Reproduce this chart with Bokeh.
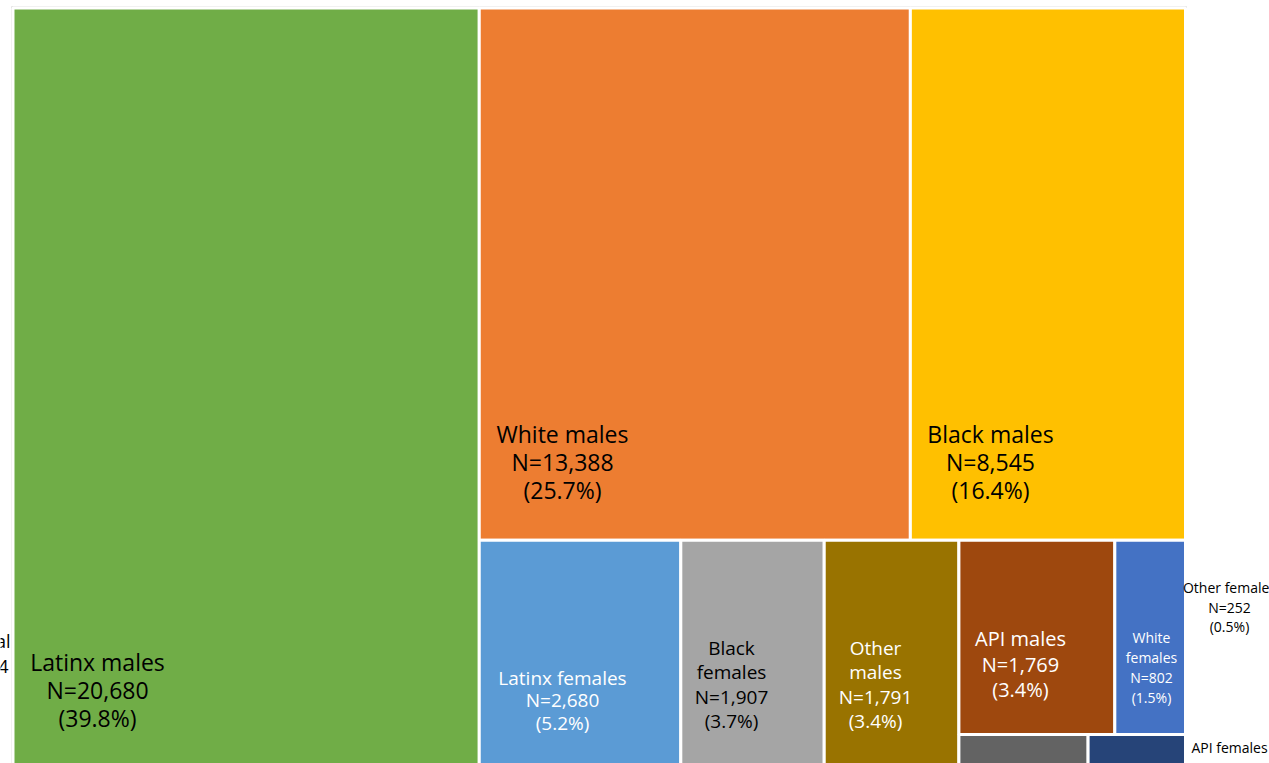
from bokeh.plotting import figure
from bokeh.models import Range1d, ColumnDataSource
from bokeh.core.properties import value
from bokeh.embed import file_html
from bokeh.resources import INLINE

# ---- data ----
categories = ["Latinx males", "White males", "Black males", "Latinx females",
              "Black females", "Other males", "API males", "White females",
              "Other females", "API females"]
counts = [20680, 13388, 8545, 2680, 1907, 1791, 1769, 802, 252, 190]

# ---- styles ----
colors = ["#70AD47", "#ED7D31", "#FFC000", "#5B9BD5", "#A5A5A5",
          "#997300", "#9E480E", "#4472C4", "#636363", "#264478"]
label_colors = ["#000000", "#000000", "#000000", "#FFFFFF", "#000000",
                "#FFFFFF", "#FFFFFF", "#FFFFFF", "#000000", "#000000"]
name_lines = [["Latinx males"], ["White males"], ["Black males"], ["Latinx females"],
              ["Black", "females"], ["Other", "males"], ["API males"],
              ["White", "females"], ["Other females"], ["API females"]]
font_px = [23, 23, 23, 19, 19, 19, 20, 14, 14, 14]
line_step = [28, 28, 28, 22.5, 24.5, 24.5, 25.5, 20, 19.5, 19.5]
# first-line centre of each label, offset from the treemap's top-left corner (px)
label_off = [(84.5, 653.5), (549.5, 425.5), (977.5, 425.5), (549.5, 669.5),
             (718.5, 639.5), (862.5, 639.5), (1007.5, 630.5), (1138.5, 629.5),
             (1216.5, 579.5), (1216.5, 739.5)]

# strips, as laid out in the reference: (direction, members)
strips = [("v", [0]), ("h", [1, 2]), ("v", [3]), ("v", [4]), ("v", [5]),
          ("h", [6, 7]), ("h", [8, 9])]

# treemap frame, in page pixels
FX0, FY0, FW, FH = 12.5, 7.5, 1172.5, 760.0
CW, CH = 1269, 763

total = sum(counts)

# ---- layout ----
left, right, top, bottom = [0.0] * 10, [0.0] * 10, [0.0] * 10, [0.0] * 10
x0, y0, w, h = FX0, FY0, FW, FH
remaining = float(total)
for direction, members in strips:
    s = sum(counts[i] for i in members)
    frac = s / remaining
    if direction == "v":
        sw = w * frac
        yy = y0
        for i in members:
            hh = h * counts[i] / s
            left[i], right[i], top[i], bottom[i] = x0, x0 + sw, yy, yy + hh
            yy += hh
        x0 += sw
        w -= sw
    else:
        sh = h * frac
        xx = x0
        for i in members:
            ww = w * counts[i] / s
            left[i], right[i], top[i], bottom[i] = xx, xx + ww, y0, y0 + sh
            xx += ww
        y0 += sh
        h -= sh
    remaining -= s

tiles = ColumnDataSource(dict(left=left, right=right, top=top, bottom=bottom,
                              color=colors, name=categories))

# label lines
tx, ty, tt, tc, tf = [], [], [], [], []
for i in range(len(categories)):
    lines = name_lines[i] + [f"N={counts[i]:,}", f"({100 * counts[i] / total:.1f}%)"]
    cx, cy = FX0 + label_off[i][0], FY0 + label_off[i][1]
    for k, line in enumerate(lines):
        tx.append(cx)
        ty.append(cy + k * line_step[i])
        tt.append(line)
        tc.append(label_colors[i])
        tf.append(f"{font_px[i]}px")
labels = ColumnDataSource(dict(x=tx, y=ty, text=tt, color=tc, size=tf))

p = figure(width=CW, height=CH, output_backend="svg", toolbar_location=None,
           x_range=Range1d(0, CW), y_range=Range1d(CH, 0),
           min_border=0, background_fill_color="white", border_fill_color="white")
p.axis.visible = False
p.grid.visible = False
p.outline_line_color = None

# faint chart-area border
p.quad(left=[FX0 - 1.5], right=[FX0 + FW + 1], top=[FY0 - 1.5], bottom=[FY0 + FH + 40],
       fill_color=None, line_color="#E3E3E3", line_width=1)

p.quad(left="left", right="right", top="top", bottom="bottom", source=tiles,
       fill_color="color", line_color="white", line_width=3)

p.text(x="x", y="y", text="text", source=labels, text_color="color",
       text_font_size="size", text_font=value("Open Sans"),
       text_align="center", text_baseline="middle")

# total label (mostly off the left edge in the reference)
p.text(x=[10, 8], y=[FY0 + 632.5, FY0 + 657.5], text=["Total", f"N={total:,}"],
       text_color="#000000", text_font_size="18px", text_font=value("Open Sans"),
       text_align="right", text_baseline="middle")

open("out.html", "w").write(file_html(p, INLINE))
